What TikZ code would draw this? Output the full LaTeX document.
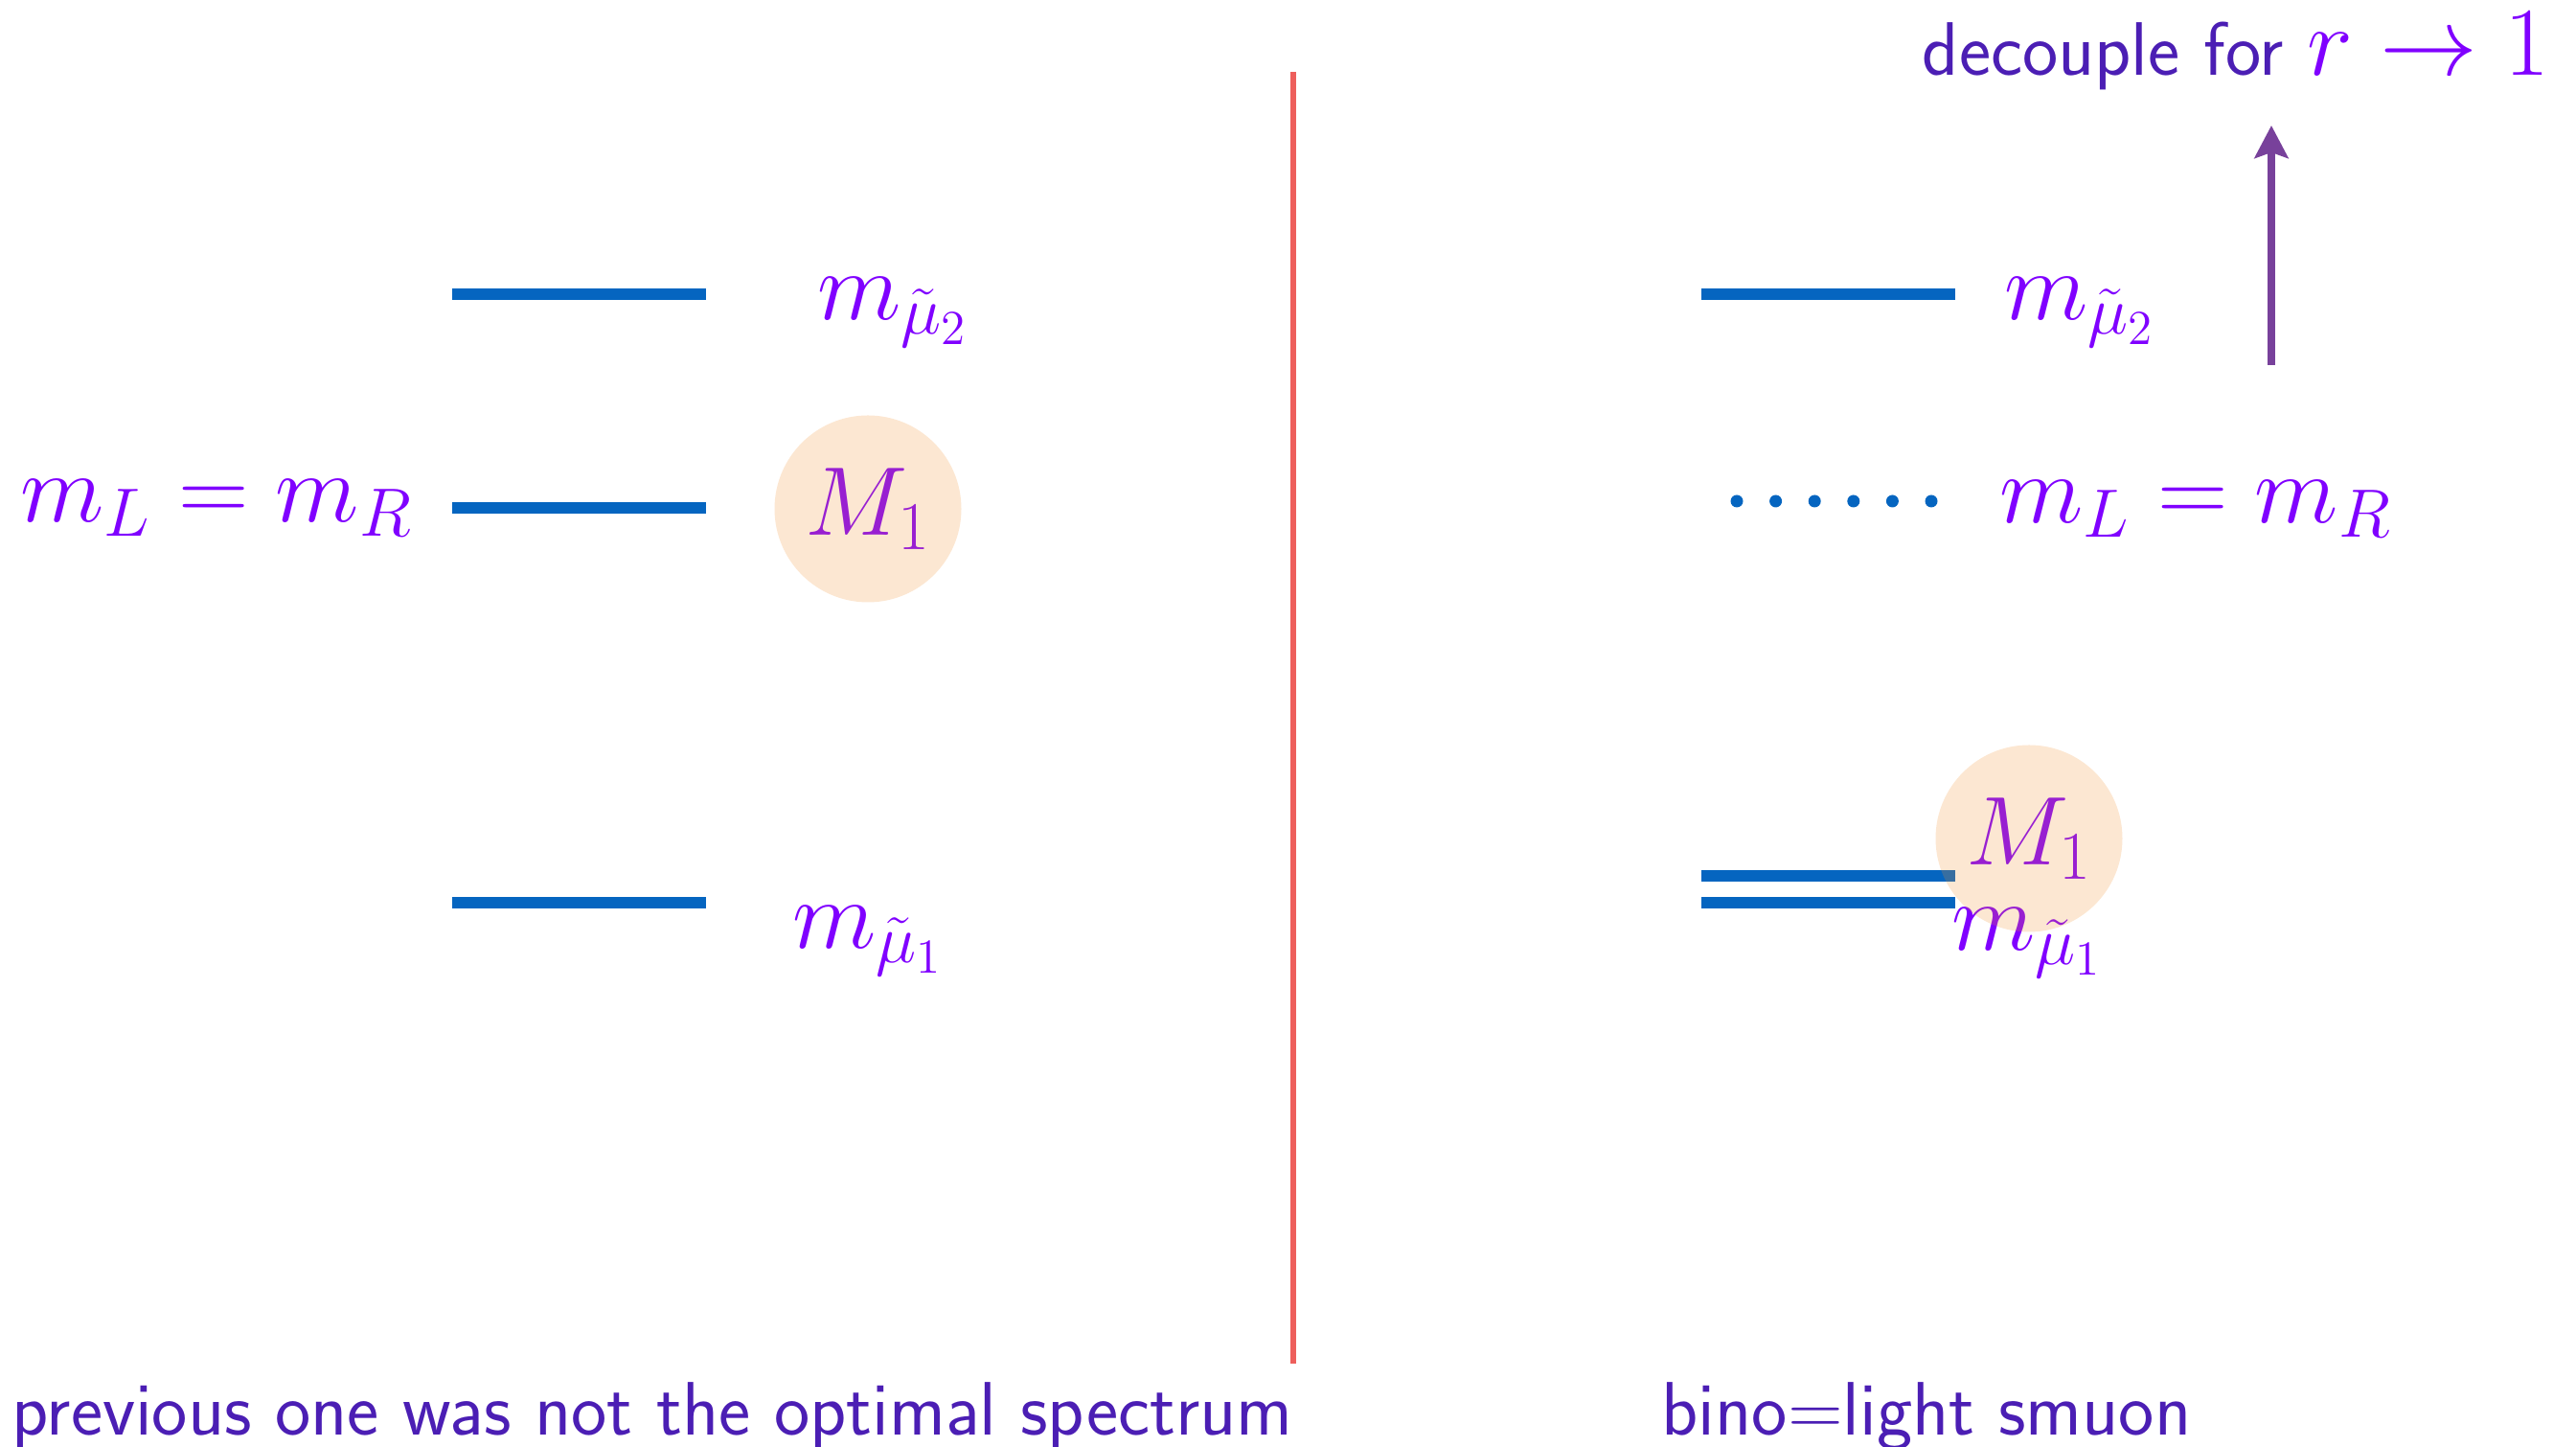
\RequirePackage{fix-cm}
\documentclass[tikz,border=0pt]{standalone}
\usepackage{amsmath,amssymb}
\usetikzlibrary{arrows.meta,positioning}
\definecolor{lvlblue}{RGB}{5,101,192}
\definecolor{mathviolet}{RGB}{128,0,255}
\definecolor{textindigo}{RGB}{75,30,180}
\definecolor{blobpeach}{RGB}{241,145,50}
\definecolor{splitred}{RGB}{238,95,92}
\definecolor{arrowpurple}{RGB}{120,65,155}

\begin{document}
\begin{tikzpicture}[
  level/.style={rectangle,fill=lvlblue,inner sep=0pt,minimum width=2.65cm,minimum height=0.12cm},
  mass/.style={text=mathviolet,font=\fontsize{29}{32}\selectfont,inner sep=0pt},
  blob/.style={circle,fill=blobpeach,fill opacity=0.22,minimum size=1.95cm,inner sep=0pt},
  caption/.style={text=textindigo,font=\fontsize{22.5}{26}\sffamily},
  dotrow/.style={lvlblue,line width=0.13cm,line cap=round,dash pattern=on 0pt off 0.406cm},
  uparrow/.style={-{Stealth[length=0.34cm,width=0.35cm,inset=0.06cm]},arrowpurple,line width=0.08cm},
]
\useasboundingbox (0,0) rectangle (26.89,15.10);

% left: previous spectrum
\node[level] (lvlA) at (6.045,12.03) {};
\node[level] (lvlB) at (6.045,9.80) {};
\node[level] (lvlC) at (6.045,5.68) {};
\node[mass] (mu2A) at (9.32,11.84) {$m_{\tilde\mu_2}$};
\node[mass,left=0.4cm of lvlB] (mlrA) {$m_L=m_R$};
\node[mass] (m1A) at (9.06,9.79) {$M_1$};
\node[mass] (mu1A) at (9.06,5.28) {$m_{\tilde\mu_1}$};

% divider
\coordinate (splitT) at (13.50,14.35);
\coordinate (splitB) at (13.50,0.87);
\draw[splitred,line width=0.06cm] (splitT) -- (splitB);

% right: bino = light smuon
\node[level] (lvlD) at (19.08,12.03) {};
\node[level] (lvlE) at (19.08,5.96) {};
\node[level] (lvlF) at (19.08,5.68) {};
\coordinate (dotL) at (18.13,9.87);
\coordinate (dotR) at (20.18,9.87);
\draw[dotrow] (dotL) -- (dotR);
\node[mass] (mu2B) at (21.71,11.84) {$m_{\tilde\mu_2}$};
\node[mass] (mlrB) at (22.92,9.79) {$m_L=m_R$};
\node[mass] (m1B) at (21.18,6.35) {$M_1$};
\node[mass] (mu1B) at (21.16,5.26) {$m_{\tilde\mu_1}$};

\coordinate (arrB) at (23.71,11.29);
\coordinate (arrT) at (23.71,13.79);
\draw[uparrow] (arrB) -- (arrT);
\node[caption,inner sep=0pt,anchor=east] (decouple) at (26.62,14.57)
  {decouple for {\color{mathviolet}\fontsize{29}{32}\selectfont$r\to1$}};

% captions
\node[caption] (capA) at (6.81,0.32) {previous one was not the optimal spectrum};
\node[caption] (capB) at (20.11,0.32) {bino=light smuon};

% bino blobs on top
\node[blob] (blobA) at (m1A) {};
\node[blob] (blobB) at (m1B) {};
\end{tikzpicture}
\end{document}
